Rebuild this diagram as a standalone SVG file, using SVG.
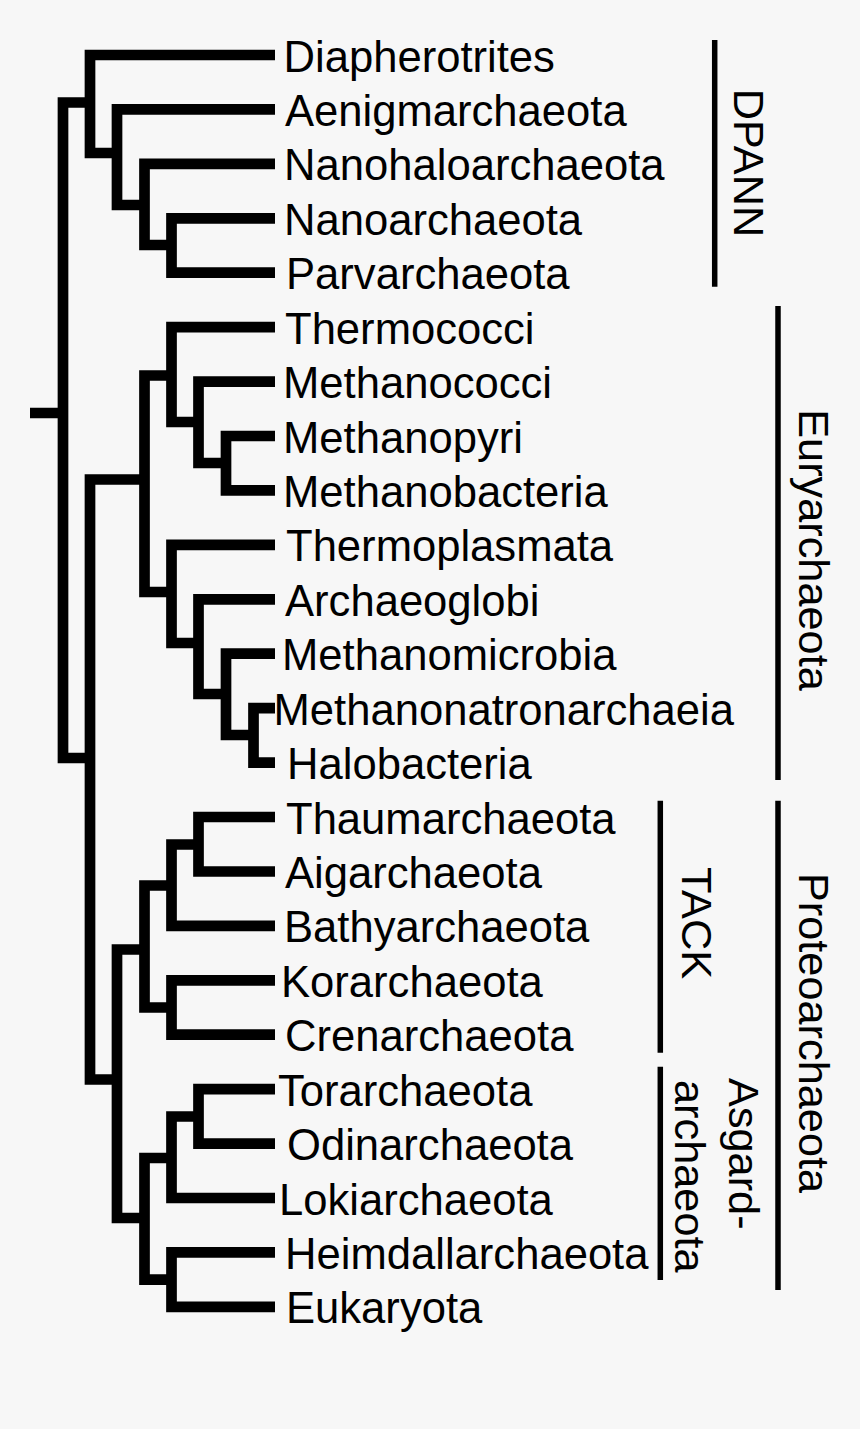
<svg xmlns="http://www.w3.org/2000/svg" width="860" height="1429" viewBox="0 0 860 1429">
<style>
.br{fill:none;stroke:#000;stroke-width:10.7;stroke-linejoin:miter;stroke-linecap:butt}
.bar{fill:none;stroke:#000;stroke-width:5.5}
.lb{font-family:"Liberation Sans",Arial,sans-serif;font-size:43.6px;fill:#000}
.gl{font-family:"Liberation Sans",Arial,sans-serif;font-size:43.3px;fill:#000}
</style>
<rect width="860" height="1429" fill="#f7f7f7"/>
<g id="connectors">
<path class="br" d="M30 413H63"/>
<path class="br" d="M90 102.5H63V758H90"/>
<path class="br" d="M275 55H90V153H117"/>
<path class="br" d="M275 109.4H117V205H144.5"/>
<path class="br" d="M275 163.9H144.5V245H171.5"/>
<path class="br" d="M275 218.3H171.5V272.7H275"/>
<path class="br" d="M144.5 479.5H90V1079.5H117"/>
<path class="br" d="M171.5 375.5H144.5V592H171.5"/>
<path class="br" d="M275 327.2H171.5V422H198.5"/>
<path class="br" d="M275 381.6H198.5V463H226"/>
<path class="br" d="M275 436H226V490.4H275"/>
<path class="br" d="M275 544.9H171.5V643H198.5"/>
<path class="br" d="M275 599.3H198.5V694H226"/>
<path class="br" d="M275 653.7H226V735H253.5"/>
<path class="br" d="M275 708.2H253.5V762.6H275"/>
<path class="br" d="M144.5 949.5H117V1218H144.5"/>
<path class="br" d="M171.5 885.5H144.5V1007.5H171.5"/>
<path class="br" d="M198.5 844.5H171.5V925.9H275"/>
<path class="br" d="M275 817H198.5V871.5H275"/>
<path class="br" d="M275 980.3H171.5V1034.7H275"/>
<path class="br" d="M171.5 1158H144.5V1279.7H171.5"/>
<path class="br" d="M198.5 1116.5H171.5V1198H275"/>
<path class="br" d="M275 1089.2H198.5V1143.6H275"/>
<path class="br" d="M275 1252.4H171.5V1306.9H275"/>
</g>
<g id="leaves">
<text id="n1" class="lb" x="283.5" y="71.5">Diapherotrites</text>
<text id="n2" class="lb" x="285" y="126">Aenigmarchaeota</text>
<text id="n3" class="lb" x="284" y="180.4">Nanohaloarchaeota</text>
<text id="n4" class="lb" x="284" y="234.8">Nanoarchaeota</text>
<text id="n5" class="lb" x="286" y="289.2">Parvarchaeota</text>
<text id="n6" class="lb" x="285" y="343.7">Thermococci</text>
<text id="n7" class="lb" x="283" y="398.1">Methanococci</text>
<text id="n8" class="lb" x="283" y="452.5">Methanopyri</text>
<text id="n9" class="lb" x="283" y="507">Methanobacteria</text>
<text id="n10" class="lb" x="286" y="561.4">Thermoplasmata</text>
<text id="n11" class="lb" x="285" y="615.8">Archaeoglobi</text>
<text id="n12" class="lb" x="282" y="670.2">Methanomicrobia</text>
<text id="n13" class="lb" x="273.5" y="724.7">Methanonatronarchaeia</text>
<text id="n14" class="lb" x="287" y="779.1">Halobacteria</text>
<text id="n15" class="lb" x="286" y="833.5">Thaumarchaeota</text>
<text id="n16" class="lb" x="285" y="888">Aigarchaeota</text>
<text id="n17" class="lb" x="284" y="942.4">Bathyarchaeota</text>
<text id="n18" class="lb" x="281" y="996.8">Korarchaeota</text>
<text id="n19" class="lb" x="285" y="1051.2">Crenarchaeota</text>
<text id="n20" class="lb" x="278" y="1105.7">Torarchaeota</text>
<text id="n21" class="lb" x="287" y="1160.1">Odinarchaeota</text>
<text id="n22" class="lb" x="279" y="1214.5">Lokiarchaeota</text>
<text id="n23" class="lb" x="285" y="1269">Heimdallarchaeota</text>
<text id="n24" class="lb" x="286" y="1323.4">Eukaryota</text>
</g>
<g id="group-dpann">
<path class="bar" d="M714.7 40V286.7"/>
<text class="gl" text-anchor="middle" transform="translate(733.5,163) rotate(90)">DPANN</text>
</g>
<g id="group-eury">
<path class="bar" d="M778 306V780"/>
<text class="gl" text-anchor="middle" transform="translate(799.3,550) rotate(90)">Euryarchaeota</text>
</g>
<g id="group-proteo">
<path class="bar" d="M778 800.7V1290"/>
<text class="gl" text-anchor="middle" transform="translate(798.5,1033) rotate(90)">Proteoarchaeota</text>
</g>
<g id="group-tack">
<path class="bar" d="M660.3 800.7V1052.7"/>
<text class="gl" text-anchor="middle" transform="translate(681.7,923) rotate(90)">TACK</text>
</g>
<g id="group-asgard">
<path class="bar" d="M660.3 1066.7V1280"/>
<text class="gl" transform="translate(729,1078) rotate(90)">Asgard-</text>
<text class="gl" transform="translate(675,1080) rotate(90)">archaeota</text>
</g>
</svg>
